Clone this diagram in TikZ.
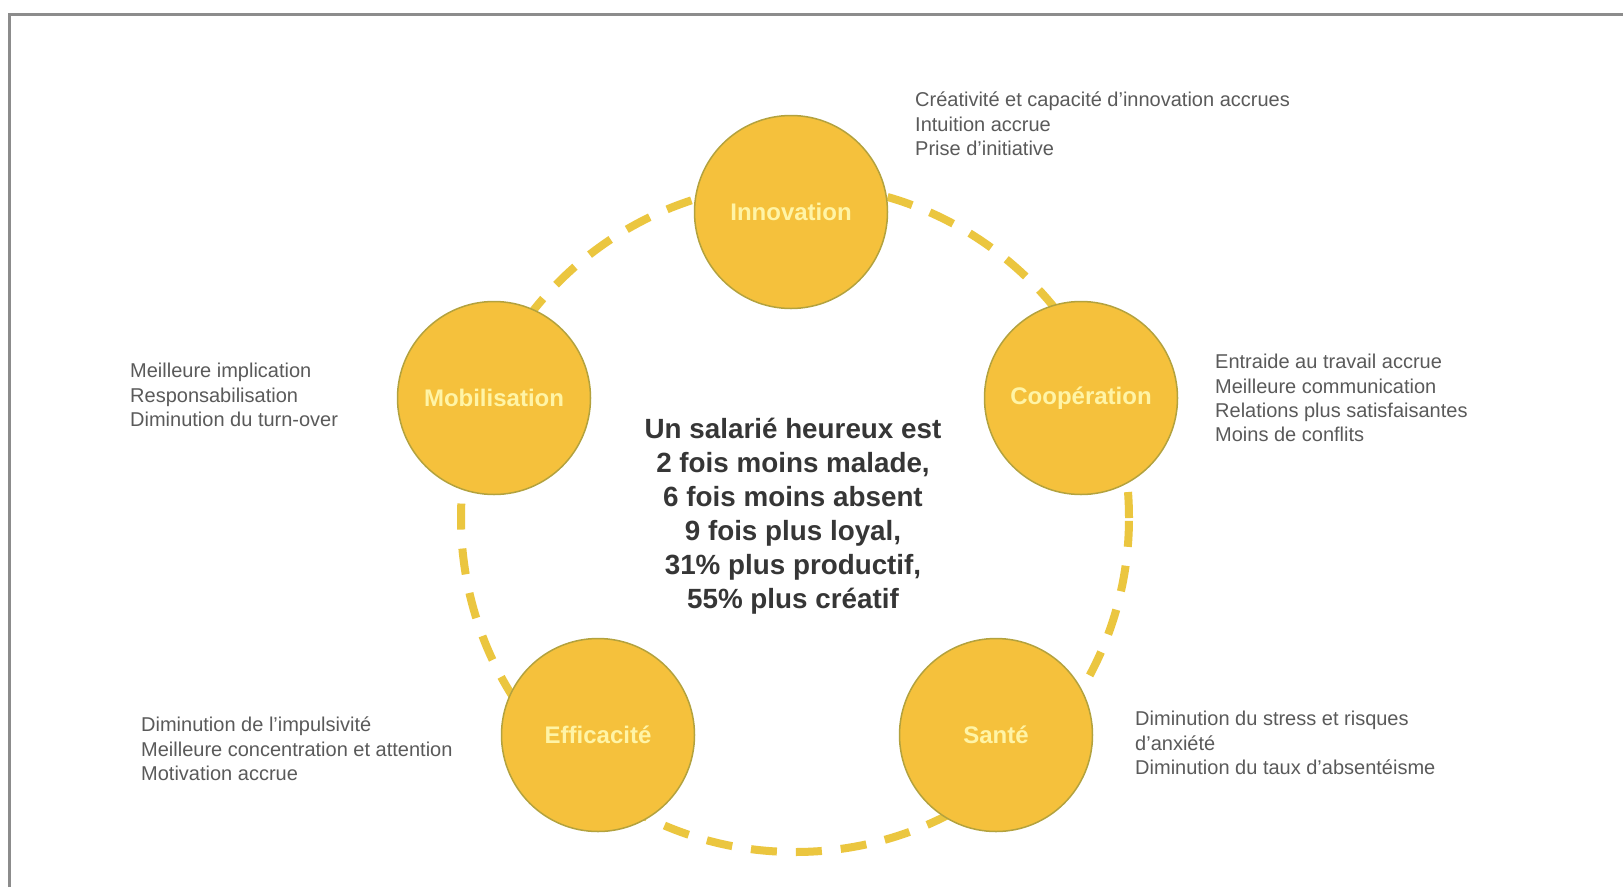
\documentclass[tikz,border=0pt]{standalone}
\usepackage{fontspec}
\setmainfont{Liberation Sans}
\usepackage{xcolor}
\usepackage{tikz}
\definecolor{sun}{HTML}{F5C13C}
\definecolor{sunRim}{HTML}{B3A23E}
\definecolor{halo}{HTML}{EBC63F}
\definecolor{pale}{HTML}{FFF4A6}
\definecolor{ink}{HTML}{363636}
\definecolor{mid}{HTML}{5A5A5A}
\definecolor{frame}{HTML}{8C8C8C}

\begin{document}
\begin{tikzpicture}[x=1pt,y=-1pt,
    pillar/.style={circle, draw=sunRim, line width=1.5pt, fill=sun,
      minimum size=193pt, inner sep=0pt, text=pale,
      font=\fontsize{24}{28}\selectfont\bfseries},
    gain/.style={anchor=west, align=left, inner sep=0pt, text=mid,
      font=\fontsize{20}{24.3}\selectfont}]
  \useasboundingbox (0,0) rectangle (1623,887);
  \fill[white] (0,0) rectangle (1623,887);
  \draw[frame, line width=3pt] (9,887) -- (9,14) -- (1623,14);

  % dashed ring behind the five circles
  \node[circle, draw=halo, line width=8pt, dash pattern=on 26pt off 19pt,
        minimum size=668pt, inner sep=0pt] (ring) at (795,518) {};

  \node[pillar] (inno)  at (791,212) {Innovation};
  \node[pillar] (mobil) at (494,398) {Mobilisation};
  \node[pillar] (coop)  at (1081,398) {Coopération};
  \node[pillar] (effic) at (598,735) {Efficacité};
  \node[pillar] (sante) at (996,735) {Santé};

  \node[gain] (innoTxt) at (915,124) {Créativité et capacité d'innovation accrues\\
    Intuition accrue\\Prise d'initiative};
  \node[gain] (mobilTxt) at (130,395) {Meilleure implication\\
    Responsabilisation\\Diminution du turn-over};
  \node[gain] (coopTxt) at (1215,398) {Entraide au travail accrue\\
    Meilleure communication\\Relations plus satisfaisantes\\Moins de conflits};
  \node[gain] (efficTxt) at (141,749) {Diminution de l'impulsivité\\
    Meilleure concentration et attention\\Motivation accrue};
  \node[gain] (santeTxt) at (1135,743) {Diminution du stress et risques\\
    d'anxiété\\Diminution du taux d'absentéisme};

  \node[align=center, inner sep=0pt, text=ink,
        font=\fontsize{27.8}{34}\selectfont\bfseries] (claim) at (793,516)
    {Un salarié heureux est\\2 fois moins malade,\\6 fois moins absent\\
     9 fois plus loyal,\\31\% plus productif,\\55\% plus créatif};
\end{tikzpicture}
\end{document}
